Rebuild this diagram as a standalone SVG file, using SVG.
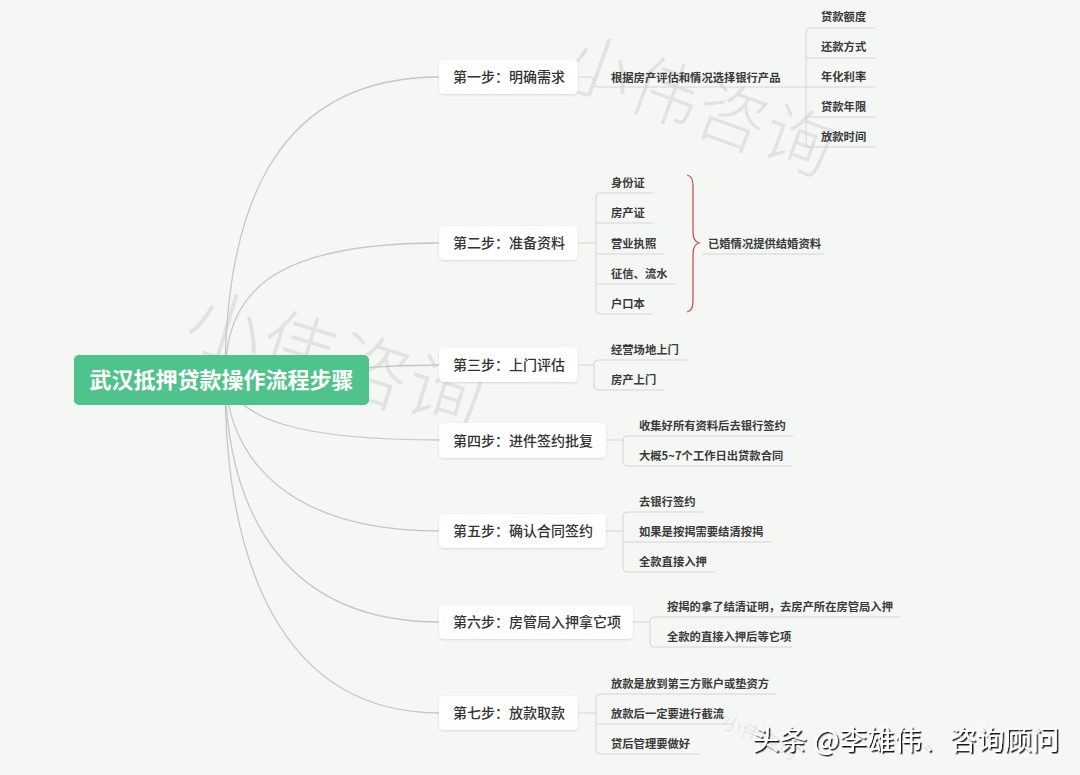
<svg xmlns="http://www.w3.org/2000/svg" width="1080" height="775" viewBox="0 0 1080 775">
<defs>
<filter id="sh" x="-10%" y="-30%" width="120%" height="160%">
<feDropShadow dx="0" dy="1" stdDeviation="1.2" flood-color="#000" flood-opacity="0.12"/>
</filter>
<filter id="ts" x="-5%" y="-20%" width="110%" height="140%">
<feDropShadow dx="1.5" dy="1.5" stdDeviation="0.4" flood-color="#000" flood-opacity="0.9"/>
</filter>
</defs>
<style>
text{font-family:"Noto Sans CJK SC","Noto Sans",sans-serif}
.wm{fill:#d8dad8;fill-opacity:0.7;font-weight:300;text-anchor:middle}
.mc{fill:none;stroke:#c6c6c6;stroke-width:1.3}
.ln{fill:none;stroke:#d4d4d4;stroke-width:1}
.box{fill:#fff;filter:url(#sh)}
.st{font-size:14px;font-weight:500;fill:#333}
.lf{font-size:11.3px;font-weight:bold;fill:#3a3a3a}
.brace{fill:none;stroke:#c8464a;stroke-width:1.2}
</style>
<rect width="1080" height="775" fill="#f5f7f5"/>
<g id="watermarks">
<g font-size="70">
<text class="wm" x="598" y="94" transform="rotate(20 598 70)">小</text>
<text class="wm" x="665" y="118" transform="rotate(20 665 94)">伟</text>
<text class="wm" x="731.5" y="142" transform="rotate(20 731.5 118)">咨</text>
<text class="wm" x="798" y="166" transform="rotate(20 798 142)">询</text>
</g>
<text class="wm" x="335" y="388" font-size="76" transform="rotate(17 335 362)">小伟咨询</text>
<text class="wm" x="760" y="744" font-size="20" transform="rotate(25 760 737)">小伟咨询</text>
</g>
<g id="connectors">
<path class="mc" d="M225,380 C225,200 280,77 440,77"/>
<path class="mc" d="M225,380 C225,300 260,243 440,243"/>
<path class="mc" d="M225,380 C300,375 350,365 440,365"/>
<path class="mc" d="M225,380 C240,420 300,440 440,440"/>
<path class="mc" d="M225,380 C232,470 300,531 440,531"/>
<path class="mc" d="M225,380 C228,520 290,622 440,622"/>
<path class="mc" d="M225,380 C225,560 280,713 440,713"/>
<path class="ln" d="M578,77 H590 Q594,77 594,81 V83 Q594,87 598,87 H806"/>
<path class="ln" d="M875,28 H810 Q806,28 806,32 V143 Q806,147 810,147 H875"/>
<path class="ln" d="M806,58 H875 M806,87 H875 M806,117 H875"/>
<path class="ln" d="M578,243 H596"/>
<path class="ln" d="M653,193 H600 Q596,193 596,197 V310 Q596,314 600,314 H653"/>
<path class="ln" d="M596,223 H653 M596,254 H665 M596,284 H676"/>
<path class="brace" d="M687,175 Q693,176 693,186 V232 Q693,241 699,243 Q693,245 693,254 V301 Q693,311 687,312"/>
<path class="ln" d="M702,254 H825"/>
<path class="ln" d="M578,365 H594"/>
<path class="ln" d="M687,360 H598 Q594,360 594,364 V386 Q594,390 598,390 H665"/>
<path class="ln" d="M606,440 H623"/>
<path class="ln" d="M793,436 H627 Q623,436 623,440 V462 Q623,466 627,466 H793"/>
<path class="ln" d="M606,531 H623"/>
<path class="ln" d="M703,512 H627 Q623,512 623,516 V568 Q623,572 627,572 H715"/>
<path class="ln" d="M623,542 H772"/>
<path class="ln" d="M633,622 H650"/>
<path class="ln" d="M900,617 H654 Q650,617 650,621 V643 Q650,647 654,647 H792"/>
<path class="ln" d="M578,713 H596"/>
<path class="ln" d="M776,694 H600 Q596,694 596,698 V750 Q596,754 600,754 H699"/>
<path class="ln" d="M596,724 H733"/>
</g>
<g id="root">
<rect x="74" y="355" width="295" height="50" rx="5" fill="#4fc38b"/>
<text x="221.5" y="388" font-size="22" font-weight="bold" fill="#fff" text-anchor="middle">武汉抵押贷款操作流程步骤</text>
</g>
<g id="step1">
<rect class="box" x="439" y="60" width="139" height="34" rx="5"/>
<text class="st" x="453" y="82">第一步：明确需求</text>
<text class="lf" x="611" y="82">根据房产评估和情况选择银行产品</text>
<text class="lf" x="821" y="21">贷款额度</text>
<text class="lf" x="821" y="51">还款方式</text>
<text class="lf" x="821" y="81">年化利率</text>
<text class="lf" x="821" y="111">贷款年限</text>
<text class="lf" x="821" y="141">放款时间</text>
</g>
<g id="step2">
<rect class="box" x="439" y="226" width="139" height="34" rx="5"/>
<text class="st" x="453" y="248">第二步：准备资料</text>
<text class="lf" x="611" y="187">身份证</text>
<text class="lf" x="611" y="217">房产证</text>
<text class="lf" x="611" y="248">营业执照</text>
<text class="lf" x="611" y="278">征信、流水</text>
<text class="lf" x="611" y="308">户口本</text>
<text class="lf" x="708" y="248">已婚情况提供结婚资料</text>
</g>
<g id="step3">
<rect class="box" x="439" y="347" width="139" height="35" rx="5"/>
<text class="st" x="453" y="370">第三步：上门评估</text>
<text class="lf" x="611" y="354">经营场地上门</text>
<text class="lf" x="611" y="384">房产上门</text>
</g>
<g id="step4">
<rect class="box" x="439" y="423" width="167" height="35" rx="5"/>
<text class="st" x="453" y="446">第四步：进件签约批复</text>
<text class="lf" x="639" y="430">收集好所有资料后去银行签约</text>
<text class="lf" x="639" y="460">大概5~7个工作日出贷款合同</text>
</g>
<g id="step5">
<rect class="box" x="439" y="514" width="167" height="34" rx="5"/>
<text class="st" x="453" y="536">第五步：确认合同签约</text>
<text class="lf" x="639" y="506">去银行签约</text>
<text class="lf" x="639" y="536">如果是按揭需要结清按揭</text>
<text class="lf" x="639" y="566">全款直接入押</text>
</g>
<g id="step6">
<rect class="box" x="439" y="605" width="194" height="34" rx="5"/>
<text class="st" x="453" y="627">第六步：房管局入押拿它项</text>
<text class="lf" x="667" y="611">按揭的拿了结清证明，去房产所在房管局入押</text>
<text class="lf" x="667" y="641">全款的直接入押后等它项</text>
</g>
<g id="step7">
<rect class="box" x="439" y="696" width="139" height="34" rx="5"/>
<text class="st" x="453" y="718">第七步：放款取款</text>
<text class="lf" x="611" y="688">放款是放到第三方账户或垫资方</text>
<text class="lf" x="611" y="718">放款后一定要进行截流</text>
<text class="lf" x="611" y="748">贷后管理要做好</text>
</g>
<g id="credit">
<text x="752" y="750" font-size="27.5" fill="#fff" filter="url(#ts)">头条 @李雄伟、咨询顾问</text>
</g>
</svg>
